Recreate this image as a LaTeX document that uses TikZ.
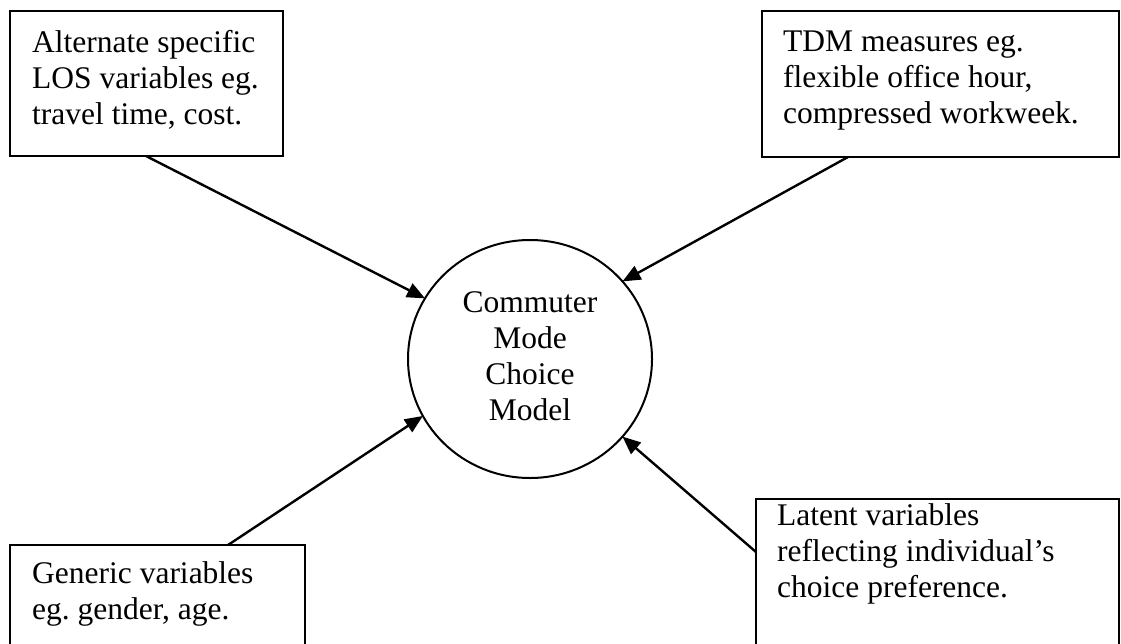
\documentclass[tikz,border=0pt]{standalone}
\usepackage{fontspec}
\setmainfont{Liberation Serif}
\usetikzlibrary{arrows.meta,shapes.geometric,calc}
\frenchspacing
\begin{document}
\begin{tikzpicture}[x=1pt,y=-1pt,
  infobox/.style={draw,line width=1.6pt,rectangle,inner sep=0pt,outer sep=0pt,anchor=north west},
  txt/.style={inner sep=0pt,anchor=base west,font=\fontsize{31.5}{36}\selectfont},
  arr/.style={line width=2.4pt,-{Triangle[length=18pt,width=15pt]}},
  hub/.style={draw,ellipse,line width=2pt,minimum width=244pt,minimum height=238pt,inner sep=0pt,outer sep=0pt,font=\fontsize{31.5}{36}\selectfont}]
\useasboundingbox (0,0) rectangle (1121,643);
\clip (0,0) rectangle (1121,643);
% boxes
\node[infobox,minimum width=273pt,minimum height=145pt] (tl) at (10,11) {};
\node[infobox,minimum width=357pt,minimum height=146pt] (tr) at (762,11) {};
\node[infobox,minimum width=295pt,minimum height=110pt] (bl) at (10,545) {};
\node[infobox,minimum width=363pt,minimum height=160pt] (br) at (756,499) {};
% texts
\node[txt] (tlt) at (32,52) {\begin{tabular}[t]{@{}l@{}}Alternate specific\\LOS variables eg.\\travel time, cost.\end{tabular}};
\node[txt] (trt) at (783,51) {\begin{tabular}[t]{@{}l@{}}TDM measures eg.\\flexible office hour,\\compressed workweek.\end{tabular}};
\node[txt] (blt) at (32,583) {\begin{tabular}[t]{@{}l@{}}Generic variables\\eg.\ gender, age.\end{tabular}};
\node[txt] (brt) at (777,525) {\begin{tabular}[t]{@{}l@{}}Latent variables\\reflecting individual’s\\choice preference.\end{tabular}};
% hub
\node[hub] (circ) at (530,359) {\begin{tabular}{@{}c@{}}Commuter\\Mode\\Choice\\Model\end{tabular}};
% arrows
\draw[arr] ($(tl.south west)+(136,0)$) -- (circ.150);
\draw[arr] ($(tr.south west)+(86,0)$) -- (circ.40);
\draw[arr] ($(bl.north west)+(218,0)$) -- (circ.208);
\draw[arr] ($(br.north west)+(0,53)$) -- (circ.320);
\end{tikzpicture}
\end{document}
